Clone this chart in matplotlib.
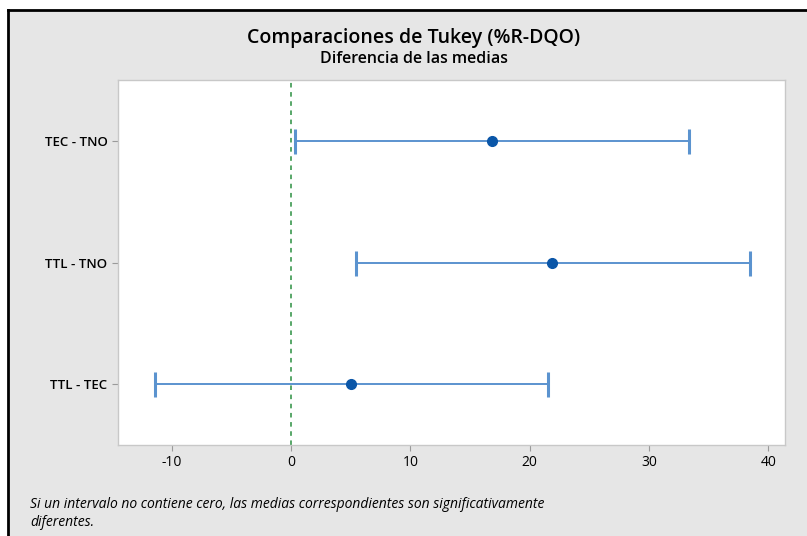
import matplotlib.pyplot as plt
from matplotlib.lines import Line2D

# ======================
# DATA
# ======================
comparisons = ["TEC - TNO", "TTL - TNO", "TTL - TEC"]
diff_means = [16.85, 21.9, 5.05]
lower = [0.35, 5.45, -11.4]
upper = [33.35, 38.45, 21.55]
x_ticks = [-10, 0, 10, 20, 30, 40]

# ======================
# PLOT
# ======================
plt.rcParams["font.family"] = ["Open Sans", "DejaVu Sans"]

fig = plt.figure(figsize=(8.07, 5.36), dpi=100)
fig.patch.set_facecolor("#e6e6e6")
ax = fig.add_axes([0.1462, 0.1698, 0.8265, 0.6809])
ax.set_facecolor("white")

ypos = list(range(len(comparisons)))
err_lo = [m - lo for m, lo in zip(diff_means, lower)]
err_hi = [hi - m for m, hi in zip(diff_means, upper)]

ax.errorbar(diff_means, ypos, xerr=[err_lo, err_hi], fmt="none",
            ecolor="#5b93cf", elinewidth=1.4, capsize=9, capthick=2.2)
ax.plot(diff_means, ypos, "o", color="#0a56a8", markersize=7, zorder=3)
ax.axvline(0, color="#2a9040", linestyle=(0, (3, 3)), linewidth=1.1)

ax.set_ylim(2.5, -0.5)
ax.set_xlim(-14.5, 41.4)
ax.set_yticks(ypos)
ax.set_yticklabels(comparisons, fontsize=9.5, fontweight="semibold")
ax.set_xticks(x_ticks)
ax.set_xticklabels([str(t) for t in x_ticks], fontsize=10)
ax.tick_params(colors="#9a9a9a", labelcolor="black", length=4, width=0.8)
for s in ax.spines.values():
    s.set_color("#c8c8c8")
    s.set_linewidth(1)

fig.text(0.513, 0.929, "Comparaciones de Tukey (%R-DQO)", ha="center",
         va="center", fontsize=14, fontweight="semibold")
fig.text(0.513, 0.889, "Diferencia de las medias", ha="center",
         va="center", fontsize=11.5, fontweight="semibold")
fig.text(0.037, 0.042, "Si un intervalo no contiene cero, las medias correspondientes son significativamente\ndiferentes.",
         ha="left", va="center", fontsize=10, style="italic", linespacing=1.25)

# black border (left and top)
fig.add_artist(Line2D([0.0105, 0.0105], [0, 0.982], color="black", lw=2,
                      transform=fig.transFigure))
fig.add_artist(Line2D([0.0105, 1], [0.982, 0.982], color="black", lw=2,
                      transform=fig.transFigure))
# white strip outside border
fig.add_artist(plt.Rectangle((0, 0.982), 1, 0.018, color="white",
                             transform=fig.transFigure, zorder=-1))
fig.add_artist(plt.Rectangle((0, 0), 0.0095, 1, color="white",
                             transform=fig.transFigure, zorder=-1))

fig.savefig("out.png", dpi=100, facecolor=fig.get_facecolor())
